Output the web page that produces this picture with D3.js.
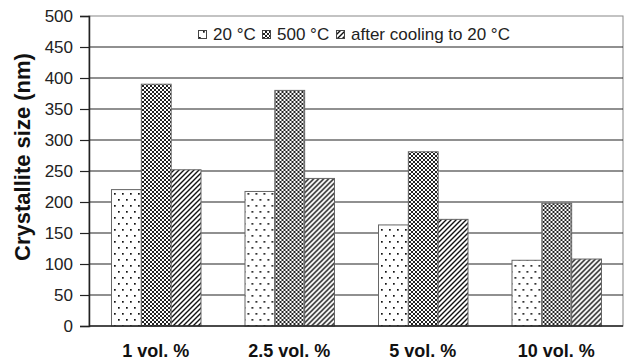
<!DOCTYPE html>
<html>
<head>
<meta charset="utf-8">
<script src="https://cdn.jsdelivr.net/npm/d3@7"></script>
<style>
  body { margin: 0; background: #fff; }
  svg { font-family: "Liberation Sans", Arial, sans-serif; }
</style>
</head>
<body>
<div id="chart"></div>
<script>
const categories = ["1 vol. %", "2.5 vol. %", "5 vol. %", "10 vol. %"];
const seriesNames = ["20 °C", "500 °C", "after cooling to 20 °C"];
const at20 = [220, 217, 163, 106];
const at500 = [390, 380, 281, 198];
const afterCooling = [252, 238, 172, 108];
const yTicks = [0, 50, 100, 150, 200, 250, 300, 350, 400, 450, 500];

const width = 626,
    height = 360,
    margin = ({ top: 16, right: 3, bottom: 34, left: 89 });

const data = categories.map((c, i) => ({
    cat: c,
    values: [at20[i], at500[i], afterCooling[i]]
}));

const svg = d3.select("#chart")
    .append("svg")
    .attr("width", width)
    .attr("height", height);

// fill patterns
const defs = svg.append("defs");

const dots = defs.append("pattern")
    .attr("id", "p0").attr("patternUnits", "userSpaceOnUse")
    .attr("width", 8).attr("height", 12);
dots.append("rect").attr("width", 8).attr("height", 12).attr("fill", "#fff");
dots.append("rect").attr("x", 1).attr("y", 1).attr("width", 1.7).attr("height", 1.7).attr("fill", "#111");
dots.append("rect").attr("x", 5).attr("y", 7).attr("width", 1.7).attr("height", 1.7).attr("fill", "#111");

const cross = defs.append("pattern")
    .attr("id", "p1").attr("patternUnits", "userSpaceOnUse")
    .attr("width", 4).attr("height", 4);
cross.append("rect").attr("width", 4).attr("height", 4).attr("fill", "#fff");
cross.append("path").attr("d", "M-1,5 L5,-1 M-1,-1 L5,5")
    .attr("stroke", "#222").attr("stroke-width", 1);

const hatch = defs.append("pattern")
    .attr("id", "p2").attr("patternUnits", "userSpaceOnUse")
    .attr("width", 5).attr("height", 5);
hatch.append("rect").attr("width", 5).attr("height", 5).attr("fill", "#fff");
hatch.append("path").attr("d", "M-1,6 L6,-1 M-1,1 L1,-1 M4,6 L6,4")
    .attr("stroke", "#111").attr("stroke-width", 1.4);

const fills = ["url(#p0)", "url(#p1)", "url(#p2)"];

const x = d3.scaleBand()
    .domain(categories)
    .range([margin.left, width - margin.right]);

const inner = d3.scaleBand()
    .domain(d3.range(3))
    .range([22.5, x.bandwidth() - 21.5]);

const y = d3.scaleLinear()
    .domain([0, 500])
    .range([height - margin.bottom, margin.top]);

// plot border
svg.append("rect")
    .attr("x", margin.left).attr("y", margin.top)
    .attr("width", width - margin.right - margin.left)
    .attr("height", y(0) - margin.top)
    .attr("fill", "none").attr("stroke", "#888").attr("stroke-width", 1);

// gridlines
svg.append("g")
    .selectAll("line")
    .data(yTicks.filter(d => d > 0 && d < 500))
    .join("line")
    .attr("x1", margin.left).attr("x2", width - margin.right)
    .attr("y1", d => y(d)).attr("y2", d => y(d))
    .attr("stroke", "#222").attr("stroke-width", 1.2);

// y axis
const yAxis = g => g
    .attr("transform", `translate(${margin.left},0)`)
    .call(d3.axisLeft(y).tickValues(yTicks).tickSize(9).tickPadding(7))
    .call(g => g.select(".domain").attr("stroke", "#222").attr("stroke-width", 1.5))
    .call(g => g.selectAll(".tick line").attr("stroke", "#222").attr("stroke-width", 1.2))
    .call(g => g.selectAll(".tick text")
        .attr("font-size", 17).attr("fill", "#222")
        .attr("font-family", "Liberation Sans, Arial, sans-serif"));

svg.append("g").call(yAxis);

// bars
const group = svg.selectAll(".group")
    .data(data)
    .join("g")
    .attr("class", "group")
    .attr("transform", d => `translate(${x(d.cat)},0)`);

group.selectAll("rect")
    .data(d => d.values)
    .join("rect")
    .attr("x", (d, i) => inner(i))
    .attr("width", inner.bandwidth())
    .attr("y", d => y(d))
    .attr("height", d => y(0) - y(d))
    .attr("fill", (d, i) => fills[i])
    .attr("stroke", "#666")
    .attr("stroke-width", 1);

// x axis line
svg.append("line")
    .attr("x1", margin.left).attr("x2", width - margin.right)
    .attr("y1", y(0)).attr("y2", y(0))
    .attr("stroke", "#222").attr("stroke-width", 1.5);

// category labels
svg.append("g")
    .selectAll("text")
    .data(categories)
    .join("text")
    .attr("x", d => x(d) + x.bandwidth() / 2)
    .attr("y", 357)
    .attr("text-anchor", "middle")
    .attr("font-size", 18)
    .attr("font-weight", "bold")
    .attr("fill", "#111")
    .text(d => d);

// y axis title
svg.append("text")
    .attr("transform", "translate(30,157) rotate(-90)")
    .attr("text-anchor", "middle")
    .attr("font-size", 22)
    .attr("font-weight", "bold")
    .attr("fill", "#111")
    .text("Crystallite size (nm)");

// legend
const legendX = [198, 262, 336];
const legend = svg.append("g");
legend.append("rect")
    .attr("x", 193).attr("y", 24).attr("width", 322).attr("height", 20)
    .attr("fill", "#fff");
const item = legend.selectAll(".item")
    .data(seriesNames)
    .join("g")
    .attr("class", "item")
    .attr("transform", (d, i) => `translate(${legendX[i]},0)`);
item.append("rect")
    .attr("x", 0.5).attr("y", 30.5).attr("width", 8).attr("height", 8)
    .attr("fill", (d, i) => fills[i])
    .attr("stroke", "#444").attr("stroke-width", 1);
item.append("text")
    .attr("x", 15).attr("y", 40)
    .attr("font-size", 17)
    .attr("fill", "#222")
    .text(d => d);
</script>
</body>
</html>
